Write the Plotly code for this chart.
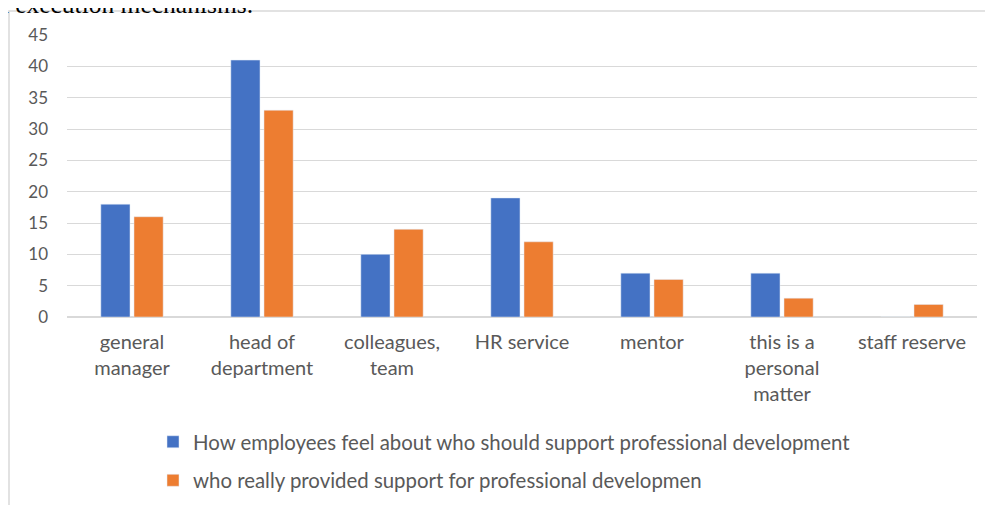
import plotly.graph_objects as go

categories = ["general<br>manager", "head of<br>department", "colleagues,<br>team", "HR service",
              "mentor", "this is a<br>personal<br>matter", "staff reserve"]
should_support = [18, 41, 10, 19, 7, 7, 0]
really_provided = [16, 33, 14, 12, 6, 3, 2]
series_names = ["How employees feel about who should support professional development",
                "who really provided support for professional developmen"]
y_ticks = [0, 5, 10, 15, 20, 25, 30, 35, 40, 45]

W, H = 993, 505
OFF = 8  # page offset of the figure inside the browser window
# desired screen positions of the plot area
SL, SR, ST, SB = 67, 977, 35, 317
L = SL - OFF
T = ST - OFF
R = W - (SR - OFF)
B = H - (SB - OFF)
pw, ph = W - L - R, H - T - B

def px_x(p):  # screen px -> paper
    return (p - OFF - L) / pw

def px_y(p):
    return (H - B - (p - OFF)) / ph

fig = go.Figure()
fig.add_trace(go.Bar(x=categories, y=should_support, name=series_names[0],
                     marker_color="#4472C4", legendgroup="a"))
fig.add_trace(go.Bar(x=categories, y=really_provided, name=series_names[1],
                     marker_color="#ED7D31", legendgroup="b"))

font_fam = "Lato, 'Open Sans', sans-serif"
fig.update_layout(
    width=W, height=H,
    margin=dict(l=L, r=R, t=T, b=B, autoexpand=False),
    paper_bgcolor="white", plot_bgcolor="white",
    barmode="group", bargap=0.49, bargroupgap=0.12,
    font=dict(family=font_fam, color="#595959", size=17),
    showlegend=True,
    legend=dict(orientation="v", x=px_x(153), y=px_y(422), xanchor="left", yanchor="top",
                font=dict(size=20.4, color="#595959"), tracegroupgap=9,
                bgcolor="rgba(0,0,0,0)"),
    xaxis=dict(showgrid=False, showline=False, ticks="", tickfont=dict(size=20),
               tickangle=0, ticklabelstandoff=11),
    yaxis=dict(range=[0, 45], tickvals=y_ticks, showgrid=True, gridcolor="#d9d9d9",
               gridwidth=1, zeroline=True, zerolinecolor="#d9d9d9", showline=False,
               tickfont=dict(size=17), ticklabelstandoff=18),
)

fig.add_shape(type="rect", xref="paper", yref="paper",
              x0=px_x(9), x1=px_x(1010), y0=px_y(530), y1=px_y(11),
              line=dict(color="#d9d9d9", width=1.5), fillcolor="rgba(0,0,0,0)", layer="below")

fig.add_annotation(text="d execution mechanisms.", xref="paper", yref="paper",
                   x=px_x(-6), y=px_y(21.5), xanchor="left", yanchor="bottom",
                   showarrow=False, font=dict(family="Liberation Serif, serif", size=25.5, color="black"))

fig.write_html("out.html")
